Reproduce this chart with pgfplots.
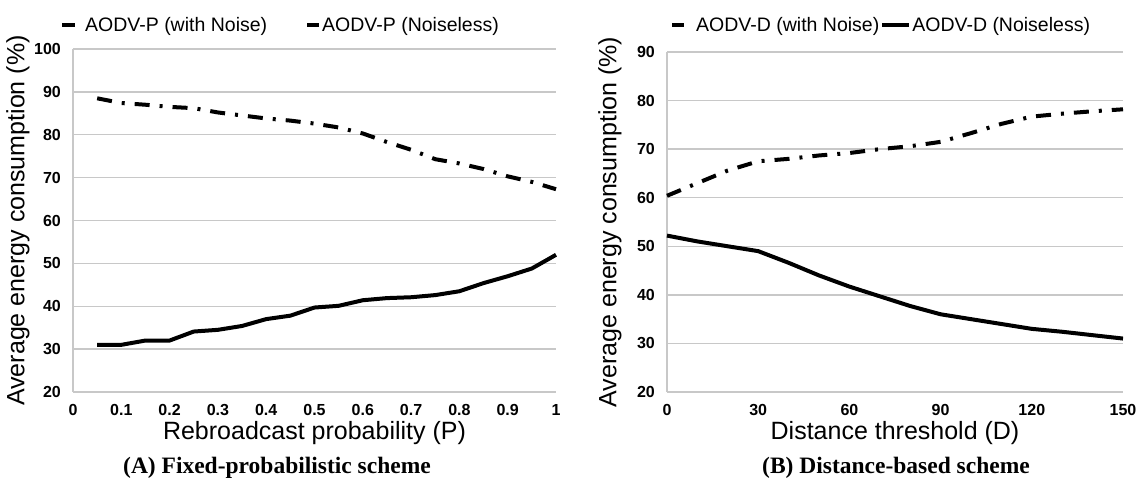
\documentclass[border=0pt]{standalone}
\usepackage{fontspec}
\setmainfont{Liberation Sans}
\newfontfamily\capfont{Liberation Serif}
\usepackage{pgfplots}
\pgfplotsset{compat=1.18}
\definecolor{gridgray}{RGB}{200,200,200}

\pgfplotsset{
  excel/.style={
    scale only axis,
    anchor=south west,
    axis lines=left,
    axis line style={-, draw=gridgray, line width=1.3pt},
    ymajorgrids,
    grid style={draw=gridgray, line width=1.3pt},
    major tick length=0pt,
    /pgf/number format/assume math mode=true,
    tick label style={font=\bfseries\fontsize{16}{18}\selectfont},
    y tick label style={anchor=east, inner sep=0pt, xshift=-12pt},
    x tick label style={anchor=north, inner sep=0pt, yshift=-12pt},
    label style={font=\fontsize{25}{28}\selectfont},
    clip=false,
    legend style={draw=none, fill=none, inner sep=0pt, anchor=west,
      font=\fontsize{19.5}{22}\selectfont,
      nodes={inner sep=1pt}},
    legend columns=2,
  },
  noisy/.style={black, line width=4pt, line join=round,
    dash pattern=on 15pt off 10pt on 3pt off 10pt},
  clean/.style={black, line width=4pt, line join=round},
  legline/.style={legend image code/.code={\draw[##1] (0pt,0pt) -- (#1,0pt);}},
}

\begin{document}
\begin{tikzpicture}[x=1pt,y=1pt]
\path[use as bounding box] (0,0) rectangle (1140,484);

% ---------- Panel A ----------
\begin{axis}[excel,
  at={(73pt,92pt)}, width=483pt, height=343pt,
  xmin=0, xmax=1, ymin=20, ymax=100,
  xtick={0,0.1,0.2,0.3,0.4,0.5,0.6,0.7,0.8,0.9,1},
  xticklabels={0,0.1,0.2,0.3,0.4,0.5,0.6,0.7,0.8,0.9,1},
  ytick={20,30,40,50,60,70,80,90,100},
  xlabel={Rebroadcast probability (P)},
  ylabel={Average energy consumption (\%)},
  xlabel style={at={(axis description cs:0.5,-0.1195)}, anchor=center},
  ylabel style={at={(axis description cs:-0.1139,0.5)}, anchor=center},
  legend style={at={(axis description cs:-0.027,1.07)},
    /tikz/column 1/.style={column sep=7pt},
    /tikz/column 2/.style={column sep=37pt},
    /tikz/column 3/.style={column sep=0pt}},
]
\addplot[noisy, legline=13pt] coordinates {
(0.05,88.5) (0.10,87.4) (0.15,87.0) (0.20,86.5) (0.25,86.2) (0.30,85.2)
(0.35,84.5) (0.40,83.8) (0.45,83.3) (0.50,82.6) (0.55,81.7) (0.60,80.3)
(0.65,78.3) (0.70,76.5) (0.75,74.3) (0.80,73.3) (0.85,72.0) (0.90,70.3)
(0.95,69.0) (1.00,67.3)};
\addlegendentry{AODV-P (with Noise)}
\addplot[clean, legline=12pt] coordinates {
(0.05,31.0) (0.10,31.0) (0.15,32.0) (0.20,32.0) (0.25,34.1) (0.30,34.5)
(0.35,35.4) (0.40,37.0) (0.45,37.8) (0.50,39.7) (0.55,40.1) (0.60,41.4)
(0.65,41.9) (0.70,42.1) (0.75,42.6) (0.80,43.5) (0.85,45.4) (0.90,47.0)
(0.95,48.8) (1.00,52.0)};
\addlegendentry{AODV-P (Noiseless)}
\end{axis}

% ---------- Panel B ----------
\begin{axis}[excel,
  at={(667pt,92pt)}, width=456pt, height=340pt,
  xmin=0, xmax=150, ymin=20, ymax=90,
  xtick={0,30,60,90,120,150},
  ytick={20,30,40,50,60,70,80,90},
  xlabel={Distance threshold (D)},
  ylabel={Average energy consumption (\%)},
  xlabel style={at={(axis description cs:0.5,-0.1206)}, anchor=center},
  ylabel style={at={(axis description cs:-0.125,0.5)}, anchor=center},
  legend style={at={(axis description cs:0.0066,1.079)},
    /tikz/column 1/.style={column sep=9pt},
    /tikz/column 2/.style={column sep=0pt},
    /tikz/column 3/.style={column sep=0pt}},
]
\addplot[noisy, legline=12pt] coordinates {
(0,60.4) (10,63.0) (20,65.6) (30,67.5) (40,68.0) (50,68.7) (60,69.2)
(70,70.0) (80,70.6) (90,71.5) (100,73.3) (110,75.2) (120,76.7)
(130,77.3) (140,77.8) (150,78.2)};
\addlegendentry{AODV-D (with Noise)}
\addplot[clean, legline=27pt] coordinates {
(0,52.2) (10,51.0) (20,50.0) (30,49.0) (40,46.6) (50,44.0) (60,41.7)
(70,39.7) (80,37.7) (90,36.0) (100,35.0) (110,34.0) (120,33.0)
(130,32.4) (140,31.7) (150,31.0)};
\addlegendentry{AODV-D (Noiseless)}
\end{axis}

% ---------- Captions ----------
\node[font=\capfont\bfseries\fontsize{23.5}{26}\selectfont, anchor=center] at (277,16) {(A) Fixed-probabilistic scheme};
\node[font=\capfont\bfseries\fontsize{23.5}{26}\selectfont, anchor=center] at (896,16) {(B) Distance-based scheme};
\end{tikzpicture}
\end{document}
